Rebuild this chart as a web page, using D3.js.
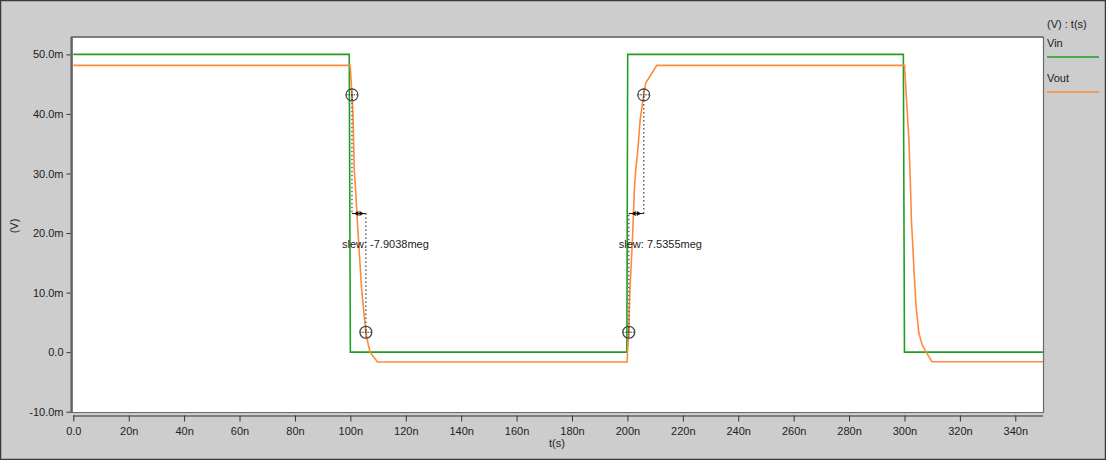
<!DOCTYPE html>
<html>
<head>
<meta charset="utf-8">
<script src="https://cdn.jsdelivr.net/npm/d3@7"></script>
<style>
  html, body { margin: 0; padding: 0; background: #cdcdcd; }
  svg { display: block; }
  text { font-family: "Liberation Sans", Arial, sans-serif; font-size: 11px; fill: #222; }
</style>
</head>
<body>
<svg id="chart" width="1106" height="460"></svg>
<script>
// Transient response: time in ns, voltage in mV
const xTicks = [0, 20, 40, 60, 80, 100, 120, 140, 160, 180, 200, 220, 240, 260, 280, 300, 320, 340];
const xTickLabels = ["0.0", "20n", "40n", "60n", "80n", "100n", "120n", "140n", "160n", "180n",
                     "200n", "220n", "240n", "260n", "280n", "300n", "320n", "340n"];
const yTicks = [-10, 0, 10, 20, 30, 40, 50];
const yTickLabels = ["-10.0m", "0.0", "10.0m", "20.0m", "30.0m", "40.0m", "50.0m"];

const vinTime  = [0, 99.6, 100.0, 199.8, 200.1, 299.6, 300.0, 350];
const vinValue = [50, 50, 0, 0, 50, 50, 0, 0];

const voutTime = [0, 99.9, 100.1, 100.7, 101.0, 101.4, 101.9, 102.7, 104.1, 105.6, 106.5, 107.1, 109.8,
                  199.9, 200.1, 200.5, 200.9, 201.8, 202.5, 203.0, 203.75, 204.6, 205.6, 206.6, 210.6,
                  300.0, 300.9, 301.6, 302.1, 302.5, 302.9, 303.5, 304.2, 305.2, 306.4, 308.1, 309.9, 350];
const voutValue = [48.15, 48.15, 46.9, 42.3, 39.0, 30.6, 27.2, 20.5, 10.4, 3.3, 1.2, 0.0, -1.66,
                   -1.66, 0.5, 3.3, 10.4, 18.8, 27.2, 30.6, 33.9, 39.0, 42.3, 45.2, 48.15,
                   48.15, 41.2, 35.6, 28.9, 22.2, 18.8, 13.2, 7.6, 3.2, 1.2, -0.2, -1.6, -1.6];

// Slew measurements: 90% / 10% crossings of Vout
const slewFall = { t1: 100.58, v1: 43.21, t2: 105.6, v2: 3.34, label: "slew: -7.9038meg" };
const slewRise = { t1: 200.5, v1: 3.34, t2: 205.9, v2: 43.21, label: "slew: 7.5355meg" };

const legendTitle = "(V) : t(s)";
const seriesNames = ["Vin", "Vout"];
const seriesColors = ["#1f9f1f", "#ff8a3a"];

const svg = d3.select("#chart");
const W = 1106, H = 460;
const plot = { left: 73, right: 1043, top: 38, bottom: 412 };

// window frame
svg.append("rect").attr("x", 0.5).attr("y", 0.5).attr("width", W - 1).attr("height", H - 1)
  .attr("fill", "#cdcdcd").attr("stroke", "#3a3a3a").attr("stroke-width", 1.5);

const x = d3.scaleLinear().domain([0, 350]).range([plot.left + 0.3, plot.right]);
const y = d3.scaleLinear().domain([-10, 52.75]).range([plot.bottom - 0.3, plot.top]);

// plot area
svg.append("rect").attr("x", plot.left).attr("y", plot.top)
  .attr("width", plot.right - plot.left).attr("height", plot.bottom - plot.top)
  .attr("fill", "#ffffff");
// frame: sunken style border
svg.append("path")
  .attr("d", `M${plot.left - 1},${plot.bottom + 1}V${plot.top - 1}H${plot.right + 0.5}`)
  .attr("fill", "none").attr("stroke", "#7c7c7c").attr("stroke-width", 2);
svg.append("path")
  .attr("d", `M${plot.left - 1},${plot.bottom + 0.5}H${plot.right + 0.5}V${plot.top - 1}`)
  .attr("fill", "none").attr("stroke", "#6a6a6a").attr("stroke-width", 1.2);

// axes
const yAxis = d3.axisLeft(y).tickValues(yTicks)
  .tickFormat((d, i) => yTickLabels[i]).tickSize(4).tickSizeOuter(0).tickPadding(3);
const gy = svg.append("g").attr("transform", `translate(${plot.left - 2.5},0)`).call(yAxis);
gy.select(".domain").attr("stroke", "#4a4a4a").attr("d", `M0.5,${plot.top - 1}V${plot.bottom + 1}`);
gy.selectAll(".tick line").attr("stroke", "#333");
gy.selectAll("text").style("font-family", '"Liberation Sans", Arial, sans-serif').style("font-size", "11px").attr("fill", "#222");

const xAxis = d3.axisBottom(x).tickValues(xTicks)
  .tickFormat((d, i) => xTickLabels[i]).tickSize(6).tickSizeOuter(0).tickPadding(6);
const gx = svg.append("g").attr("transform", `translate(0,${plot.bottom + 3.5})`).call(xAxis);
gx.select(".domain").attr("stroke", "#333").attr("d", `M${plot.left},0.5H${plot.right}`);
gx.selectAll(".tick line").attr("stroke", "#333");
gx.selectAll("text").style("font-family", '"Liberation Sans", Arial, sans-serif').style("font-size", "11px").attr("fill", "#222");

// axis titles
svg.append("text").attr("x", 557).attr("y", 447).attr("text-anchor", "middle").text("t(s)");
svg.append("text").attr("transform", "translate(18,226) rotate(-90)")
  .attr("text-anchor", "middle").text("(V)");

// traces
svg.append("clipPath").attr("id", "plotClip").append("rect")
  .attr("x", plot.left).attr("y", plot.top)
  .attr("width", plot.right - plot.left).attr("height", plot.bottom - plot.top);
const traces = svg.append("g").attr("clip-path", "url(#plotClip)");
const line = d3.line().x(d => x(d[0])).y(d => y(d[1]));

traces.append("path").datum(d3.zip(vinTime, vinValue))
  .attr("d", line).attr("fill", "none").attr("stroke", seriesColors[0]).attr("stroke-width", 1.6);
traces.append("path").datum(d3.zip(voutTime, voutValue))
  .attr("d", line).attr("fill", "none").attr("stroke", seriesColors[1]).attr("stroke-width", 1.6);

// slew cursors
function drawSlew(m) {
  const g = svg.append("g");
  const xa = x(m.t1), ya = y(m.v1), xb = x(m.t2), yb = y(m.v2);
  const ym = y((m.v1 + m.v2) / 2);
  const dots = { stroke: "#666", "stroke-width": 1.5, "stroke-dasharray": "1.5,2.5" };
  const v1 = g.append("line").attr("x1", xa).attr("x2", xa).attr("y1", ya).attr("y2", ym);
  const v2 = g.append("line").attr("x1", xb).attr("x2", xb).attr("y1", ym).attr("y2", yb);
  [v1, v2].forEach(l => Object.entries(dots).forEach(([k, v]) => l.attr(k, v)));

  // measurement arrow
  const xl = Math.min(xa, xb), xr = Math.max(xa, xb), xc = (xl + xr) / 2;
  g.append("line").attr("x1", xl).attr("x2", xr).attr("y1", ym).attr("y2", ym)
    .attr("stroke", "#111").attr("stroke-width", 1);
  g.append("path")
    .attr("d", `M${xc - 5},${ym}L${xc - 0.5},${ym - 2.5}L${xc - 0.5},${ym + 2.5}Z M${xc + 5},${ym}L${xc + 0.5},${ym - 2.5}L${xc + 0.5},${ym + 2.5}Z`)
    .attr("fill", "#111");

  // crosshair markers
  [[xa, ya], [xb, yb]].forEach(([cx, cy]) => {
    g.append("circle").attr("cx", cx).attr("cy", cy).attr("r", 6)
      .attr("fill", "none").attr("stroke", "#444").attr("stroke-width", 1.2);
    g.append("path").attr("d", `M${cx - 6},${cy}H${cx + 6}M${cx},${cy - 6}V${cy + 6}`)
      .attr("stroke", "#333").attr("stroke-width", 1).attr("stroke-dasharray", "1.5,1");
  });

  g.append("text").attr("x", xl - 10).attr("y", ym + 34).text(m.label);
}
drawSlew(slewFall);
drawSlew(slewRise);

// legend
const lg = svg.append("g");
lg.append("text").attr("x", 1047).attr("y", 28).text(legendTitle);
seriesNames.forEach((name, i) => {
  const base = 47 + i * 35;
  lg.append("text").attr("x", 1047).attr("y", base).text(name);
  lg.append("line").attr("x1", 1047).attr("x2", 1099)
    .attr("y1", base + 10).attr("y2", base + 10)
    .attr("stroke", seriesColors[i]).attr("stroke-width", 1.6);
});
</script>
</body>
</html>
